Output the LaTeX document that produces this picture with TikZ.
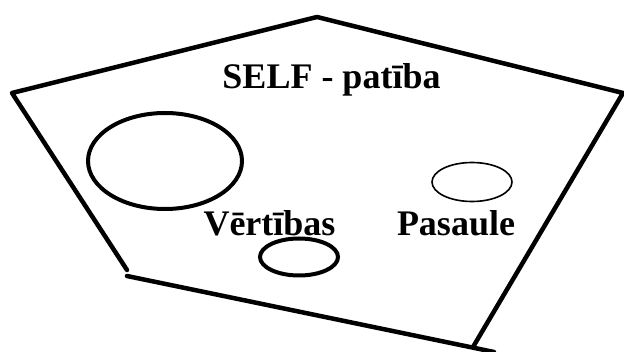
\documentclass[tikz,border=0pt]{standalone}
\usepackage{fontspec}
\setmainfont{Liberation Serif}
\usetikzlibrary{shapes.geometric}
\tikzset{
  outline/.style={line width=4.5pt, line join=round, line cap=round},
  ring/.style={draw, ellipse, inner sep=0pt, line width=#1},
  lbl/.style={font=\bfseries\fontsize{36}{40}\selectfont, anchor=base, inner sep=0pt}
}
\begin{document}
\begin{tikzpicture}[x=1pt, y=-1pt]
\useasboundingbox (0,0) rectangle (624,352);
\coordinate (l) at (12,93);
\coordinate (t) at (317,17);
\coordinate (r) at (623,93);
\coordinate (br) at (473,347);
\coordinate (lb) at (127,270);
\coordinate (bs) at (127,276);
\coordinate (be) at (494,352);
\draw[outline] (lb) -- (l) -- (t) -- (r) -- (br);
\draw[outline] (bs) -- (be);
\node[ring=4pt, minimum width=154pt, minimum height=96pt] (big) at (165,161) {};
\node[ring=1.6pt, minimum width=80pt, minimum height=39pt] (world) at (472,182) {};
\node[ring=4pt, minimum width=78pt, minimum height=37pt] (values) at (299,257) {};
\node[lbl] (self) at (331.5,89) {SELF - patība};
\node[lbl] (vert) at (269.5,236) {Vērtības};
\node[lbl] (pas) at (456,236) {Pasaule};
\end{tikzpicture}
\end{document}
